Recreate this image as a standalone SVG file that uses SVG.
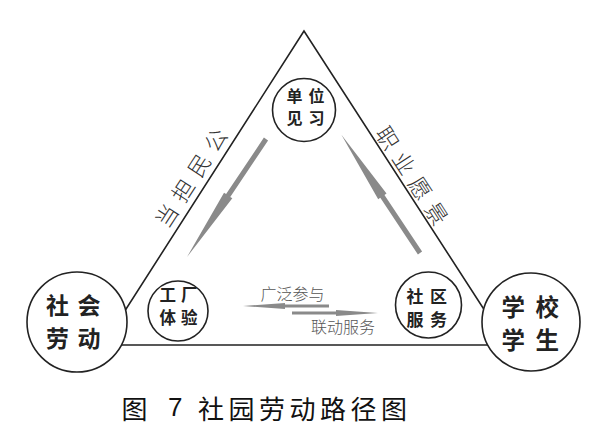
<svg xmlns="http://www.w3.org/2000/svg" xmlns:xlink="http://www.w3.org/1999/xlink" width="597" height="441" viewBox="0 0 597 441">
<style>
.edge{fill:none;stroke:#222;stroke-width:1.6;stroke-linejoin:miter}
.node circle{fill:#fff;stroke:#222;stroke-width:1.6}
.lbl{font-family:"Noto Sans CJK SC",sans-serif;font-weight:bold;fill:#222;text-anchor:middle;dominant-baseline:central}
.arrow{fill:#8a8a8a}
.side{font-family:"Noto Sans CJK SC",sans-serif;font-size:22px;font-weight:300;fill:#333;text-anchor:middle;dominant-baseline:central}
.flow{font-family:"Noto Sans CJK SC",sans-serif;font-size:16px;font-weight:300;fill:#555;text-anchor:middle;dominant-baseline:central}
.caption{font-family:"Noto Sans CJK SC",sans-serif;font-size:26px;fill:#111;dominant-baseline:central}
</style>
<defs>
<path id="spear" d="M0,-2.5 L68,-2.5 L68,-5 L142,0 L68,5 L68,2.5 L0,2.5Z"/>
<path id="dart" d="M0,-1.6 L44,-1.6 L44,-3 L86,0 L44,3 L44,1.6 L0,1.6Z"/>
</defs>
<rect width="597" height="441" fill="#fff"/>
<g id="connectors">
<polygon class="edge" points="304,31 103,345 507,345"/>
<use class="arrow" href="#spear" transform="translate(266,139) rotate(123.8)"/>
<use class="arrow" href="#spear" transform="translate(420,253) rotate(-123.6)"/>
<use class="arrow" href="#dart" transform="translate(329,306) rotate(180)"/>
<use class="arrow" href="#dart" transform="translate(292,313)"/>
</g>
<g id="edge-labels">
<text class="side" x="214" y="139" transform="rotate(-57 214 139)">公</text>
<text class="side" x="197.8" y="164.3" transform="rotate(-57 197.8 164.3)">民</text>
<text class="side" x="181.6" y="189.5" transform="rotate(-57 181.6 189.5)">担</text>
<text class="side" x="165.4" y="214.8" transform="rotate(-57 165.4 214.8)">当</text>
<text class="side" x="389" y="137" transform="rotate(57 389 137)">职</text>
<text class="side" x="405.3" y="162.2" transform="rotate(57 405.3 162.2)">业</text>
<text class="side" x="421.6" y="187.4" transform="rotate(57 421.6 187.4)">愿</text>
<text class="side" x="437.9" y="212.6" transform="rotate(57 437.9 212.6)">景</text>
<text class="flow" x="292.5" y="292.5">广泛参与</text>
<text class="flow" x="343" y="326">联动服务</text>
</g>
<g id="node-danwei" class="node">
<circle cx="304" cy="110" r="31.5"/>
<text class="lbl" font-size="16" letter-spacing="6"><tspan x="308.5" y="95">单位</tspan><tspan x="308.5" y="117">见习</tspan></text>
</g>
<g id="node-shehui" class="node">
<circle cx="77" cy="322" r="50"/>
<text class="lbl" font-size="23" letter-spacing="8.5"><tspan x="77.5" y="304">社会</tspan><tspan x="77.5" y="337">劳动</tspan></text>
</g>
<g id="node-gongchang" class="node">
<circle cx="178" cy="311" r="30"/>
<text class="lbl" font-size="16.5" letter-spacing="5"><tspan x="181" y="294">工厂</tspan><tspan x="181" y="317">体验</tspan></text>
</g>
<g id="node-shequ" class="node">
<circle cx="428.5" cy="305" r="33"/>
<text class="lbl" font-size="17" letter-spacing="6.5"><tspan x="430" y="294.5">社区</tspan><tspan x="430" y="317.5">服务</tspan></text>
</g>
<g id="node-xuexiao" class="node">
<circle cx="531" cy="322" r="49"/>
<text class="lbl" font-size="23.5" letter-spacing="10.5"><tspan x="535.5" y="306">学校</tspan><tspan x="535.5" y="339">学生</tspan></text>
</g>
<text class="caption" y="406.5"><tspan x="121.5">图</tspan><tspan x="168" font-family="Liberation Sans, sans-serif">7</tspan><tspan x="198" letter-spacing="4.5">社园劳动路径图</tspan></text>
</svg>
